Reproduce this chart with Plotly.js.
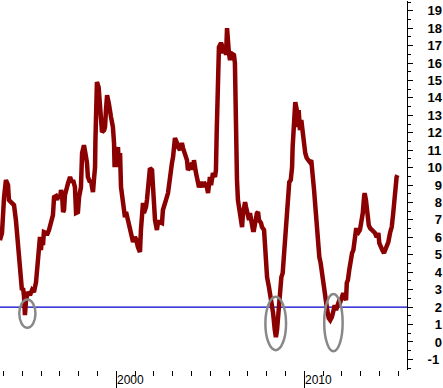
<!DOCTYPE html>
<html>
<head>
<meta charset="utf-8">
<script src="https://cdn.plot.ly/plotly-3.0.1.min.js"></script>
<style>html,body{margin:0;padding:0;background:#fff;}#chart{width:443px;height:388px;}</style>
</head>
<body>
<div id="chart"></div>
<script>
// Time (decimal years)
var years = [
1993.81,1993.92,1994.03,1994.13,1994.24,1994.29,1994.40,1994.56,1994.66,1994.77,1994.88,1994.98,
1995.04,1995.09,1995.14,1995.20,1995.30,1995.41,1995.52,1995.62,1995.73,1995.78,1995.84,1995.89,1995.94,1995.99,
1996.05,1996.10,1996.15,1996.26,1996.31,1996.42,1996.53,1996.63,1996.69,1996.79,1996.85,1996.90,
1997.01,1997.06,1997.11,1997.17,1997.22,1997.27,1997.32,1997.38,1997.43,1997.54,1997.64,1997.70,1997.80,1997.86,1997.96,
1998.02,1998.12,1998.15,1998.18,1998.28,1998.34,1998.39,1998.44,1998.49,1998.60,1998.65,1998.71,1998.76,1998.81,1998.87,1998.89,1998.92,1998.97,
1999.06,1999.13,1999.19,1999.24,1999.35,1999.40,1999.45,1999.51,1999.60,1999.66,1999.72,1999.82,1999.88,1999.91,1999.97,
2000.04,2000.09,2000.14,2000.20,2000.25,2000.36,2000.46,2000.52,2000.62,2000.73,2000.78,2000.89,2000.99,
2001.05,2001.15,2001.26,2001.31,2001.37,2001.42,2001.47,2001.58,2001.63,2001.69,2001.74,2001.79,2001.90,2001.95,
2002.01,2002.06,2002.16,2002.22,2002.32,2002.43,2002.48,2002.54,2002.64,2002.75,2002.80,2002.86,2002.96,
2003.02,2003.07,2003.12,2003.23,2003.28,2003.39,2003.49,2003.55,2003.65,2003.76,2003.81,2003.92,
2004.03,2004.08,2004.13,2004.24,2004.35,2004.40,2004.51,2004.61,2004.66,2004.82,2004.88,2004.98,
2005.04,2005.14,2005.25,2005.30,2005.34,2005.37,2005.41,2005.46,2005.57,2005.62,2005.68,2005.78,2005.84,2005.89,2005.99,
2006.05,2006.10,2006.21,2006.26,2006.31,2006.35,2006.38,2006.42,2006.47,2006.53,2006.58,2006.63,2006.69,2006.74,2006.85,2006.90,2006.95,
2007.06,2007.11,2007.17,2007.27,2007.32,2007.38,2007.48,2007.54,2007.59,2007.70,2007.75,2007.86,2007.91,2007.96,
2008.02,2008.12,2008.18,2008.23,2008.28,2008.34,2008.43,2008.49,2008.55,2008.64,2008.67,2008.72,2008.78,2008.85,2008.90,2008.96,
2009.03,2009.08,2009.15,2009.20,2009.28,2009.35,2009.38,2009.44,2009.47,2009.52,2009.60,2009.65,2009.70,2009.77,2009.84,2009.91,2009.98,
2010.05,2010.13,2010.20,2010.29,2010.37,2010.45,2010.52,2010.59,2010.66,2010.73,2010.80,2010.87,2010.94,
2011.01,2011.09,2011.15,2011.22,2011.30,2011.38,2011.47,2011.54,2011.62,2011.69,2011.76,2011.83,2011.90,2011.99,
2012.07,2012.16,2012.22,2012.26,2012.32,2012.39,2012.47,2012.54,2012.61,2012.68,2012.75,2012.82,2012.89,2012.96,
2013.03,2013.11,2013.18,2013.21,2013.28,2013.35,2013.43,2013.50,2013.60,2013.67,2013.76,2013.85,2013.94,2013.99,
2014.06,2014.15,2014.24,2014.31,2014.38,2014.47,2014.56,2014.65,2014.73,2014.79,2014.86,2014.91,2014.95
];
// Series values
var values = [
5.84,6.25,8.31,9.29,9.00,8.14,8.02,7.85,6.99,5.56,4.41,2.98,
3.09,2.63,1.54,2.40,2.86,2.69,2.98,2.86,3.43,4.12,4.81,5.84,6.02,5.27,
5.96,5.56,6.30,6.25,6.13,6.42,6.88,7.28,8.31,8.37,8.14,8.43,
8.25,8.71,8.54,7.45,7.57,8.43,8.71,8.83,9.10,9.46,9.17,9.29,8.88,7.40,7.45,
8.31,8.88,9.86,10.84,11.29,10.61,10.61,10.26,9.46,9.17,9.29,8.88,8.60,9.29,10.03,11.58,13.88,14.91,
14.62,13.13,12.44,12.04,12.15,12.33,13.30,14.16,13.70,13.13,12.90,12.33,11.41,10.03,11.18,
10.61,11.18,10.03,10.84,8.88,7.74,7.16,7.45,6.99,6.42,6.02,5.73,6.02,
5.90,5.44,5.16,6.42,7.74,7.97,7.39,7.74,8.14,8.71,9.69,9.97,9.86,8.71,
7.39,6.99,6.42,6.88,6.88,6.82,7.57,7.74,8.14,8.54,9.11,9.75,10.26,
10.61,11.58,11.70,11.41,11.18,11.01,11.41,11.12,10.84,10.43,9.86,10.03,
10.26,9.86,10.43,9.69,9.11,8.88,9.17,8.88,9.17,8.88,8.54,9.46,
9.00,9.69,9.46,9.86,12.00,14.28,15.77,16.92,17.15,17.03,16.57,16.92,16.46,18.00,16.57,
16.17,16.57,16.46,16.46,16.00,12.00,11.01,9.29,8.14,7.57,7.16,6.82,6.59,7.39,8.02,7.74,7.39,
6.99,7.39,6.99,6.42,6.42,6.88,7.39,7.45,6.99,6.82,6.59,6.42,5.10,4.29,
3.72,3.15,2.80,2.40,2.00,1.66,0.68,0.28,0.68,1.83,2.57,2.98,3.72,3.95,4.70,5.84,
6.82,7.57,8.54,9.17,9.29,10.03,11.18,12.15,13.13,13.76,13.30,12.33,13.30,12.15,12.73,12.04,11.58,
10.84,10.55,10.43,10.32,10.43,9.69,8.71,7.74,6.59,5.44,4.87,4.52,3.95,
3.15,2.86,2.40,1.83,1.37,1.25,1.43,1.83,2.11,1.83,2.11,2.29,2.23,2.57,
2.80,2.57,2.40,3.38,3.55,4.12,4.87,5.10,5.27,5.84,6.42,6.42,6.30,6.42,
6.82,7.39,8.31,8.54,8.14,7.16,6.70,6.53,6.42,6.30,6.25,6.02,6.25,5.67,
5.44,5.27,5.10,5.27,5.44,5.73,6.25,6.59,7.39,8.31,8.88,9.46,9.57
];
// Reference level
var thresholdLevel = 2;
// Highlighted lows (ellipses)
var lowX0 = [1994.84, 2007.93, 2011.06];
var lowX1 = [1995.70, 2009.03, 2012.04];
var lowY0 = [0.81, -0.47, -0.54];
var lowY1 = [2.44, 2.59, 2.75];
// Tick labels
var xTickVals = [2000, 2010];
var xTickText = ['2000', '2010'];
var yTickVals = [-1,0,1,2,3,4,5,6,7,8,9,10,11,12,13,14,15,16,17,18,19];
var yTickText = yTickVals.map(function(v){ return (v >= 0 && v < 10) ? '\u2007' + v : String(v); });

var xRange = [1993.814, 2015.463];
var yRange = [-1.61, 19.56];

var shapes = [{
  type: 'line', xref: 'paper', x0: 0, x1: 1, yref: 'y', y0: thresholdLevel, y1: thresholdLevel,
  line: {color: '#0000cc', width: 1.2}, layer: 'below'
}];
for (var i = 0; i < lowX0.length; i++) {
  shapes.push({type: 'circle', xref: 'x', yref: 'y', x0: lowX0[i], x1: lowX1[i], y0: lowY0[i], y1: lowY1[i],
    line: {color: '#888888', width: 2.5}, layer: 'above'});
}

var trace = {
  x: years, y: values, type: 'scatter', mode: 'lines',
  line: {color: '#8b0000', width: 4.5}, hoverinfo: 'skip', showlegend: false
};

var layout = {
  width: 443, height: 388,
  margin: {l: 0, r: 36, t: 1, b: 18, pad: 0},
  paper_bgcolor: '#ffffff', plot_bgcolor: '#ffffff',
  showlegend: false,
  xaxis: {
    type: 'linear', range: xRange, tickmode: 'array', tickvals: xTickVals, ticktext: xTickText,
    ticks: 'outside', ticklen: 18, tickwidth: 1, tickcolor: '#000',
    minor: {tickmode: 'linear', tick0: 2000, dtick: 1, ticks: 'outside', ticklen: 5, tickwidth: 1, tickcolor: '#000', showgrid: false},
    showgrid: false, zeroline: false, showline: false,
    tickfont: {family: 'Liberation Sans, Arial, sans-serif', size: 12, color: '#000'},
    ticklabelshift: 14, ticklabelstandoff: -19
  },
  xaxis2: {
    overlaying: 'x', side: 'top', anchor: 'y', range: xRange,
    showline: true, linecolor: '#000', linewidth: 1, ticks: '', showticklabels: false,
    showgrid: false, zeroline: false
  },
  yaxis: {
    side: 'right', range: yRange, tickmode: 'array', tickvals: yTickVals, ticktext: yTickText,
    ticks: 'outside', ticklen: 5, tickwidth: 1, tickcolor: '#000',
    minor: {tickmode: 'linear', tick0: 0, dtick: 0.5, ticks: 'outside', ticklen: 3, tickwidth: 1, tickcolor: '#000', showgrid: false},
    showline: true, linecolor: '#000', linewidth: 1,
    showgrid: false, zeroline: false,
    tickfont: {family: 'Liberation Sans, Arial, sans-serif', size: 13, color: '#000', weight: 'bold'},
    ticklabelstandoff: 12
  },
  shapes: shapes
};

Plotly.newPlot('chart', [trace], layout, {displayModeBar: false, staticPlot: true});
</script>
</body>
</html>
